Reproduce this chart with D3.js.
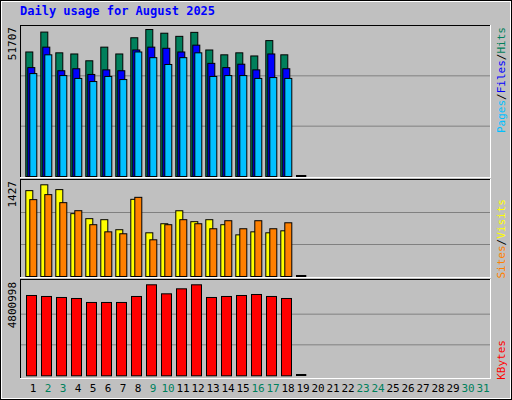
<!DOCTYPE html><html><head><script src="https://cdn.jsdelivr.net/npm/d3@7"></script>
<style>body{margin:0;background:#fff}</style></head><body><svg id="c" width="512" height="400"></svg>
<script>
const days=d3.range(1,32);
const weekends=[2,3,9,10,16,17,23,24,30,31];
const hits=[43800,50800,43500,43100,40700,45500,43100,48800,51700,50400,49300,50700,44500,42800,43500,42400,47800,42800];
const files=[38300,45500,37200,37900,35900,37500,37200,44500,45500,45100,43800,46200,39800,38300,39500,37500,43100,37900];
const pages=[36200,42800,35500,34500,33400,35200,34100,43800,41800,39400,41800,43500,35200,35500,35500,34500,34800,34500];
const visits=[1336,1427,1352,978,900,884,728,1201,680,821,1023,853,884,806,648,695,680,711];
const sites=[1196,1274,1149,1024,806,695,665,1232,571,806,884,821,743,868,743,868,743,836];
const kbytes=[4237000,4185000,4132000,4079000,3869000,3869000,3869000,4185000,4801000,4325000,4589000,4801000,4132000,4185000,4237000,4290000,4185000,4079000];
const maxHits=51707,maxVisits=1427,maxKB=4800998;
const svg=d3.select("#c");
const F="DejaVu Sans Mono, monospace";
svg.append("rect").attr("x",0.5).attr("y",0.5).attr("width",511).attr("height",399).attr("fill","#c0c0c0").attr("stroke","#000");
svg.append("rect").attr("x",1.5).attr("y",1.5).attr("width",509).attr("height",397).attr("fill","none").attr("stroke","#fff");
svg.append("text").attr("x",20).attr("y",15).attr("font-family",F).attr("font-weight","bold").attr("font-size",12).attr("fill","#0000ff").text("Daily usage for August 2025");
const x=d3.scaleLinear().domain([1,32]).range([25.3,25.3+31*15]);
function panel(top,bot){
  svg.append("line").attr("x1",20).attr("x2",490).attr("y1",top+.5).attr("y2",top+.5).attr("stroke","#000");
  svg.append("line").attr("x1",20.5).attr("x2",20.5).attr("y1",top).attr("y2",bot).attr("stroke","#000");
  svg.append("line").attr("x1",20).attr("x2",490).attr("y1",bot+.5).attr("y2",bot+.5).attr("stroke","#fff");
  svg.append("line").attr("x1",490.5).attr("x2",490.5).attr("y1",top).attr("y2",bot+1).attr("stroke","#fff");
}
function grid(top,base){const h=base-top;[1,2].forEach(k=>svg.append("line").attr("x1",21).attr("x2",490).attr("y1",base-h*k/3+.5).attr("y2",base-h*k/3+.5).attr("stroke","#808080"));}
function bars(data,yS,base,off,w,col){
  svg.append("g").selectAll("rect").data(data).join("rect")
   .attr("x",(d,i)=>x(i+1)+off+.5).attr("y",d=>yS(d)+.5).attr("width",w).attr("height",d=>base-yS(d)).attr("fill",col).attr("stroke","#000");
}
function vlabel(txt,cx,top,col){svg.append("text").attr("transform",`translate(${cx},${top}) rotate(-90)`).attr("text-anchor","end").attr("font-family",F).attr("font-size",11).attr("fill",col||"#000").text(txt);}
function rlabel(parts,cx,top){const t=svg.append("text").attr("transform",`translate(${cx},${top}) rotate(-90)`).attr("text-anchor","end").attr("font-family",F).attr("font-size",11);parts.forEach(p=>t.append("tspan").attr("fill",p[1]).text(p[0]));}
// top panel
panel(25,177);grid(25,176);
const y1=d3.scaleLinear().domain([0,maxHits]).range([176,29]);
bars(hits,y1,176,0,7,"#00805c");bars(files,y1,176,2,7,"#0000ff");bars(pages,y1,176,4,7,"#00c0ff");
vlabel("51707",16,27);
rlabel([["Pages","#00c0ff"],["/","#000"],["Files","#0000ff"],["/","#000"],["Hits","#00805c"]],505,27);
// middle
panel(179,277);grid(180,276);
const y2=d3.scaleLinear().domain([0,maxVisits]).range([276,184.3]);
bars(visits,y2,276,0,7,"#ffff00");bars(sites,y2,276,4,7,"#ff8000");
vlabel("1427",16,181);
rlabel([["Sites","#ff8000"],["/","#000"],["Visits","#ffff00"]],505,199);
// bottom
panel(279,378);grid(283,375);
const y3=d3.scaleLinear().domain([0,maxKB]).range([375.3,284.3]);
bars(kbytes,y3,375.3,0.7,10,"#ff0000");
vlabel("4800998",16,282);
rlabel([["KBytes","#ff0000"]],505,340);
[176,276,375].forEach(b=>svg.append("line").attr("x1",x(19)+.7).attr("x2",x(19)+11).attr("y1",b).attr("y2",b).attr("stroke","#000").attr("stroke-width",2));
svg.append("g").selectAll("text").data(days).join("text").attr("x",d=>x(d)+7.7).attr("y",392).attr("text-anchor","middle")
 .attr("font-family",F).attr("font-size",11).attr("fill",d=>weekends.includes(d)?"#00805c":"#000").text(d=>d);
</script></body></html>
